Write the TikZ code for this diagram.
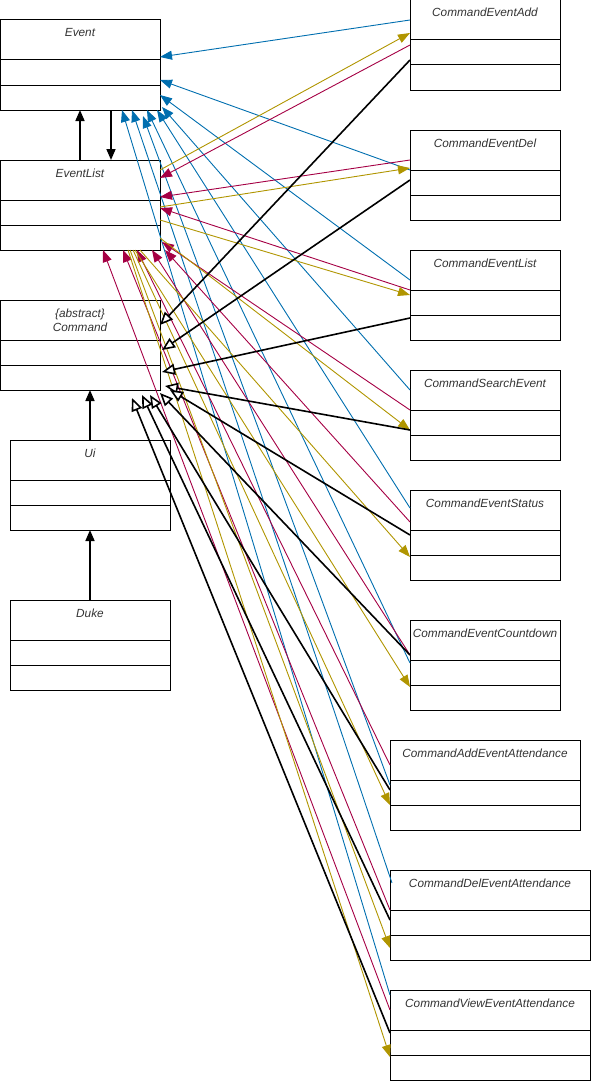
\documentclass[tikz,border=0pt]{standalone}
\usepackage{fontspec}
\setmainfont{Liberation Sans}
\usetikzlibrary{arrows.meta,positioning}

\definecolor{evblue}{HTML}{006EAF}
\definecolor{elred}{HTML}{A50044}
\definecolor{elgold}{HTML}{B09500}

\tikzset{
  cls/.style={draw,line width=1pt,anchor=north west,minimum height=90pt,inner sep=0pt,outer sep=0pt},
  clsname/.style={font=\fontsize{11.8}{14}\selectfont\itshape,text=black!80,inner sep=0pt,anchor=base},
  blk/.style={line width=1.6pt,-{Triangle[length=11pt,width=9pt]}},
  inh/.style={line width=1.6pt,-{Triangle[fill=white,length=13pt,width=11pt]}},
  uses/.style={line width=0.9pt,-{Triangle[length=12pt,width=9pt]}}
}

% class box: width, name, north west corner, title
\newcommand{\umlclass}[4]{%
  \node[cls,minimum width=#1pt] (#2) at (#3) {};
  \node[clsname] (#2-title) at ([yshift=-17pt]#2.north) {#4};
  \draw[line width=1pt] ([yshift=-40pt]#2.north west) -- ([yshift=-40pt]#2.north east);
  \draw[line width=1pt] ([yshift=-65pt]#2.north west) -- ([yshift=-65pt]#2.north east);
}

\begin{document}
\begin{tikzpicture}[x=1pt,y=-1pt]
\useasboundingbox (0,0) rectangle (591,1081);

% left column
\umlclass{160}{ev}{0,20}{Event}
\umlclass{160}{el}{0,160}{EventList}
\umlclass{160}{cmd}{0,300}{\{abstract\}}
\node[clsname] (cmd-title2) at ([yshift=-31pt]cmd.north) {Command};
\umlclass{160}{ui}{10,440}{Ui}
\umlclass{160}{duke}{10,600}{Duke}

% right column
\umlclass{150}{cadd}{410,0}{CommandEventAdd}
\umlclass{150}{cdel}{410,130}{CommandEventDel}
\umlclass{150}{clist}{410,250}{CommandEventList}
\umlclass{150}{csearch}{410,370}{CommandSearchEvent}
\umlclass{150}{cstatus}{410,490}{CommandEventStatus}
\umlclass{150}{ccount}{410,620}{CommandEventCountdown}
\umlclass{190}{caddatt}{390,740}{CommandAddEventAttendance}
\umlclass{200}{cdelatt}{390,870}{CommandDelEventAttendance}
\umlclass{200}{cviewatt}{390,990}{CommandViewEventAttendance}

% associations on the left
\draw[blk] ([xshift=80pt]el.north west) -- ([xshift=80pt]ev.south west);
\draw[blk] ([xshift=111pt]ev.south west) -- ([xshift=111pt]el.north west);
\draw[blk] (ui.north) -- ([xshift=90pt]cmd.south west);
\draw[blk] (duke.north) -- (ui.south);

% commands -> Event
\draw[uses,evblue] ([shift={(0,20)}]cadd.north west) -- ([shift={(0,37)}]ev.north east);
\draw[uses,evblue] ([shift={(0,40)}]cdel.north west) -- ([shift={(0,60)}]ev.north east);
\draw[uses,evblue] ([shift={(0,30)}]clist.north west) -- ([shift={(0,75)}]ev.north east);
\draw[uses,evblue] ([shift={(0,20)}]csearch.north west) -- ([shift={(2,87)}]ev.north east);
\draw[uses,evblue] ([shift={(0,18)}]cstatus.north west) -- ([shift={(157,0)}]ev.south west);
\draw[uses,evblue] ([shift={(0,43)}]ccount.north west) -- ([shift={(147,0)}]ev.south west);
\draw[uses,evblue] ([shift={(0,45)}]caddatt.north west) -- ([shift={(143,6)}]ev.south west);
\draw[uses,evblue] ([shift={(2,13)}]cdelatt.north west) -- ([shift={(132,0)}]ev.south west);
\draw[uses,evblue] ([shift={(0,5)}]cviewatt.north west) -- ([shift={(122,0)}]ev.south west);

% commands -> EventList
\draw[uses,elred] ([shift={(0,45)}]cadd.north west) -- ([shift={(0,18)}]el.north east);
\draw[uses,elred] ([shift={(0,30)}]cdel.north west) -- ([shift={(0,37)}]el.north east);
\draw[uses,elred] ([shift={(0,40)}]clist.north west) -- ([shift={(0,48)}]el.north east);
\draw[uses,elred] ([shift={(0,40)}]csearch.north west) -- ([shift={(2,82)}]el.north east);
\draw[uses,elred] ([shift={(0,32)}]cstatus.north west) -- ([shift={(5,0)}]el.south east);
\draw[uses,elred] ([shift={(0,35)}]ccount.north west) -- ([shift={(152,0)}]el.south west);
\draw[uses,elred] ([shift={(0,25)}]caddatt.north west) -- ([shift={(137,0)}]el.south west);
\draw[uses,elred] ([shift={(0,40)}]cdelatt.north west) -- ([shift={(123,0)}]el.south west);
\draw[uses,elred] ([shift={(0,20)}]cviewatt.north west) -- ([shift={(103,0)}]el.south west);

% EventList -> commands
\draw[uses,elgold] ([shift={(0,10)}]el.north east) -- ([shift={(0,33)}]cadd.north west);
\draw[uses,elgold] ([shift={(0,47)}]el.north east) -- ([shift={(0,38)}]cdel.north west);
\draw[uses,elgold] ([shift={(0,60)}]el.north east) -- ([shift={(0,45)}]clist.north west);
\draw[uses,elgold] ([shift={(0,78)}]el.north east) -- ([shift={(0,60)}]csearch.north west);
\draw[uses,elgold] ([shift={(140,0)}]el.south west) -- ([shift={(0,67)}]cstatus.north west);
\draw[uses,elgold] ([shift={(135,0)}]el.south west) -- ([shift={(0,67)}]ccount.north west);
\draw[uses,elgold] ([shift={(133,0)}]el.south west) -- ([shift={(0,65)}]caddatt.north west);
\draw[uses,elgold] ([shift={(130,0)}]el.south west) -- ([shift={(0,78)}]cdelatt.north west);
\draw[uses,elgold] ([shift={(128,0)}]el.south west) -- ([shift={(0,67)}]cviewatt.north west);

% commands inherit Command
\draw[inh] ([shift={(0,60)}]cadd.north west) -- ([shift={(0,25)}]cmd.north east);
\draw[inh] ([shift={(0,50)}]cdel.north west) -- ([shift={(2,50)}]cmd.north east);
\draw[inh] ([shift={(0,68)}]clist.north west) -- ([shift={(2,72)}]cmd.north east);
\draw[inh] ([shift={(0,60)}]csearch.north west) -- ([shift={(5,86)}]cmd.north east);
\draw[inh] ([shift={(0,45)}]cstatus.north west) -- ([shift={(10,0)}]cmd.south east);
\draw[inh] ([shift={(0,35)}]ccount.north west) -- ([shift={(0,3)}]cmd.south east);
\draw[inh] ([shift={(0,50)}]caddatt.north west) -- ([shift={(150,5)}]cmd.south west);
\draw[inh] ([shift={(0,50)}]cdelatt.north west) -- ([shift={(142,5)}]cmd.south west);
\draw[inh] ([shift={(0,43)}]cviewatt.north west) -- ([shift={(132,8)}]cmd.south west);

\end{tikzpicture}
\end{document}
